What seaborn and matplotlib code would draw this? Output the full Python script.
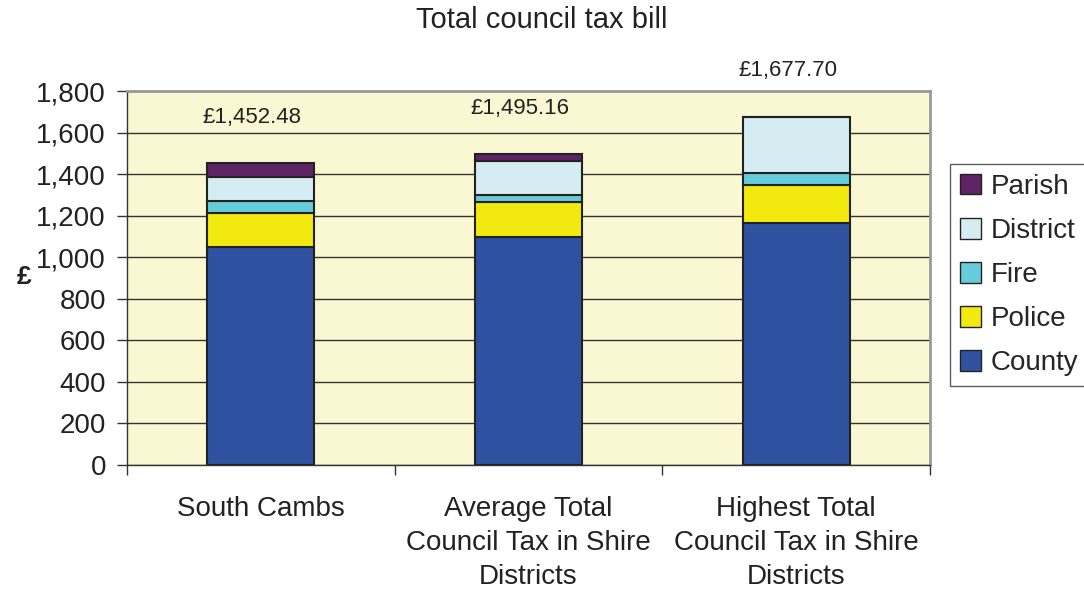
import numpy as np
import pandas as pd
import seaborn as sns
import matplotlib.pyplot as plt
from matplotlib.patches import Patch

# data
areas = ['South Cambs',
         'Average Total\nCouncil Tax in Shire\nDistricts',
         'Highest Total\nCouncil Tax in Shire\nDistricts']
county = [1050.0, 1100.0, 1165.0]
police = [165.0, 165.0, 185.0]
fire = [58.0, 35.0, 55.0]
district = [115.0, 165.0, 272.7]
parish = [64.48, 30.16, 0.0]
totals = ['£1,452.48', '£1,495.16', '£1,677.70']

components = ['County', 'Police', 'Fire', 'District', 'Parish']
colors = {'County': '#2E52A0', 'Police': '#F2EA0F', 'Fire': '#66CCDA',
          'District': '#D4ECF2', 'Parish': '#5E2364'}

df = pd.DataFrame({'area': areas, 'County': county, 'Police': police,
                   'Fire': fire, 'District': district, 'Parish': parish})

sns.set_style('white')
plt.rcParams['font.family'] = ['Liberation Sans', 'DejaVu Sans']

fig = plt.figure(figsize=(10.84, 5.92), dpi=100)
ax = fig.add_axes([0.117, 0.2145, 0.741, 0.6315])
ax.set_facecolor('#FAF8D2')

bottom = np.zeros(len(areas))
for comp in components:
    sns.barplot(data=df, x='area', y=comp, color=colors[comp], bottom=bottom,
                width=0.4, edgecolor='#222222', linewidth=1.5, saturation=1,
                ax=ax, zorder=3)
    bottom = bottom + df[comp].values

for i, lab in enumerate(totals):
    ax.annotate(lab, (i, bottom[i]), xytext=(-6, 33), textcoords='offset points',
                ha='center', va='center', fontsize=16, color='#222222')

ax.set_ylim(0, 1800)
ax.set_xlim(-0.5, 2.5)
ax.set_yticks(range(0, 1801, 200))
ax.set_yticklabels([f'{v:,}' for v in range(0, 1801, 200)], fontsize=20,
                   color='#222222')
ax.tick_params(axis='y', length=7, width=1, color='#333333', left=True,
               direction='out', pad=8)
ax.set_xticks(range(len(areas)))
ax.set_xticklabels(areas, fontsize=20, color='#222222', linespacing=1.4)
ax.tick_params(axis='x', length=0, pad=22)
ax.set_xticks([-0.5, 0.5, 1.5, 2.5], minor=True)
ax.tick_params(axis='x', which='minor', length=7, width=1, color='#333333',
               bottom=True, direction='out')
ax.grid(axis='y', color='#333333', linewidth=1, zorder=0)
ax.set_axisbelow(True)
ax.set_xlabel('')
ax.set_ylabel('')

for side in ['top', 'right']:
    ax.spines[side].set_color('#999999')
    ax.spines[side].set_linewidth(2)
for side in ['left', 'bottom']:
    ax.spines[side].set_color('#333333')
    ax.spines[side].set_linewidth(1)

fig.text(0.015, 0.532, '£', fontsize=19, fontweight='bold', ha='left',
         va='center', color='#222222')
fig.suptitle('Total council tax bill', fontsize=21, y=0.99, color='#222222')

handles = [Patch(facecolor=colors[c], edgecolor='#222222', label=c)
           for c in components[::-1]]
leg = ax.legend(handles=handles, loc='center left', bbox_to_anchor=(1.025, 0.508),
                fontsize=20, frameon=True, fancybox=False, handlelength=0.75,
                handleheight=0.75, handletextpad=0.35, labelspacing=0.65,
                borderpad=0.35, borderaxespad=0)
leg.get_frame().set_edgecolor('#333333')
leg.get_frame().set_linewidth(1)

plt.savefig('out.png', dpi=100)
